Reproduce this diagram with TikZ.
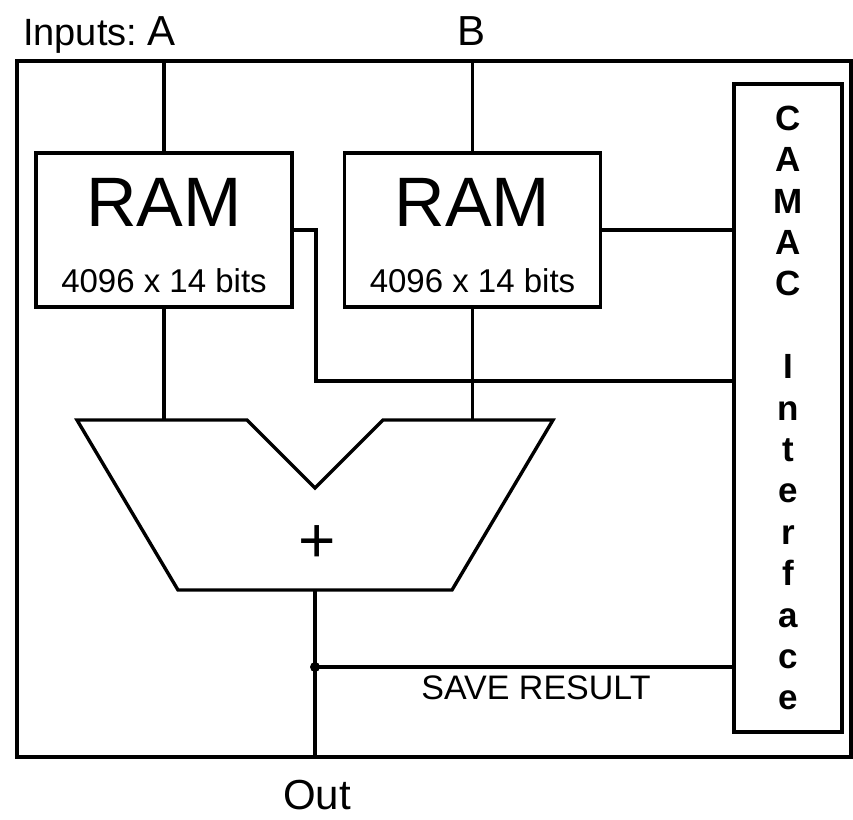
\documentclass[tikz,border=0pt]{standalone}
\usepackage{fontspec}
\setmainfont{Liberation Sans}
\usetikzlibrary{math}

\tikzset{
  ramblock/.style={draw, line width=1.7pt, minimum width=128pt, minimum height=77pt, inner sep=0pt},
  wire/.style={line width=1.7pt},
}

\begin{document}
\begin{tikzpicture}[x=0.5pt, y=-0.5pt]
\tikzmath{
\xA=164;
\xB=472.5;
\yRam=230;
\xSum=315;
\yTop=420;
\yBot=590;
}
\useasboundingbox (0,0) rectangle (853,820);

\node[draw, line width=1.7pt, minimum width=417pt, minimum height=348pt] (frame) at (434,409) {};

% inputs
\node[font=\fontsize{19}{22}\selectfont, anchor=base west] (inputs) at (16,45) {Inputs:};
\node[font=\fontsize{21}{24}\selectfont, anchor=base] (labA) at (162,45) {A};
\node[font=\fontsize{21}{24}\selectfont, anchor=base] (labB) at (472,45) {B};

% memories
\node[ramblock] (ramA) at (\xA,\yRam) {};
\node[ramblock] (ramB) at (\xB,\yRam) {};
\node[font=\fontsize{35}{40}\selectfont] (ramAname) at (\xA,202) {RAM};
\node[font=\fontsize{35}{40}\selectfont] (ramBname) at (\xB,202) {RAM};
\node[font=\fontsize{16.5}{19}\selectfont] (ramAsize) at (\xA,281) {4096 x 14 bits};
\node[font=\fontsize{16.5}{19}\selectfont] (ramBsize) at (\xB,281) {4096 x 14 bits};

\node[draw, line width=1.7pt, minimum width=54pt, minimum height=324pt, align=center,
  font=\fontsize{17.5}{20.7}\selectfont\bfseries] (camac) at (788,408)
  {C\\A\\M\\A\\C\\[20.7pt]I\\n\\t\\e\\r\\f\\a\\c\\e};

% adder
\coordinate (sumTL) at (77,\yTop);
\coordinate (sumVL) at (247,\yTop);
\coordinate (sumV) at (\xSum,488);
\coordinate (sumVR) at (383,\yTop);
\coordinate (sumTR) at (553,\yTop);
\coordinate (sumBR) at (452,\yBot);
\coordinate (sumBL) at (178,\yBot);
\draw[wire] (sumTL) -- (sumVL) -- (sumV) -- (sumVR) -- (sumTR) -- (sumBR) -- (sumBL) -- cycle;
\node[font=\fontsize{32}{36}\selectfont] (plus) at (317,544) {+};

\draw[wire] (ramA.north |- frame.north) -- (ramA.north);
\draw[wire] (ramB.north |- frame.north) -- (ramB.north);
\draw[wire] (ramA.south) -- (ramA.south |- sumTL);
\draw[wire] (ramB.south) -- (ramB.south |- sumTR);

\coordinate (bus) at (316,381);
\draw[wire] (ramA.east) -| (bus) -- (bus -| camac.west);
\draw[wire] (ramB.east) -- (ramB.east -| camac.west);

% output
\coordinate (sumOut) at (\xSum,\yBot);
\coordinate (save) at (\xSum,667);
\draw[wire] (sumOut) -- (sumOut |- frame.south);
\fill (save) circle (2.5pt);
\draw[wire] (save) -- (save -| camac.west);
\node[font=\fontsize{17}{20}\selectfont] (saveLbl) at (536,688) {SAVE RESULT};
\node[font=\fontsize{21}{25}\selectfont] (outLbl) at (317,795) {Out};
\end{tikzpicture}
\end{document}
